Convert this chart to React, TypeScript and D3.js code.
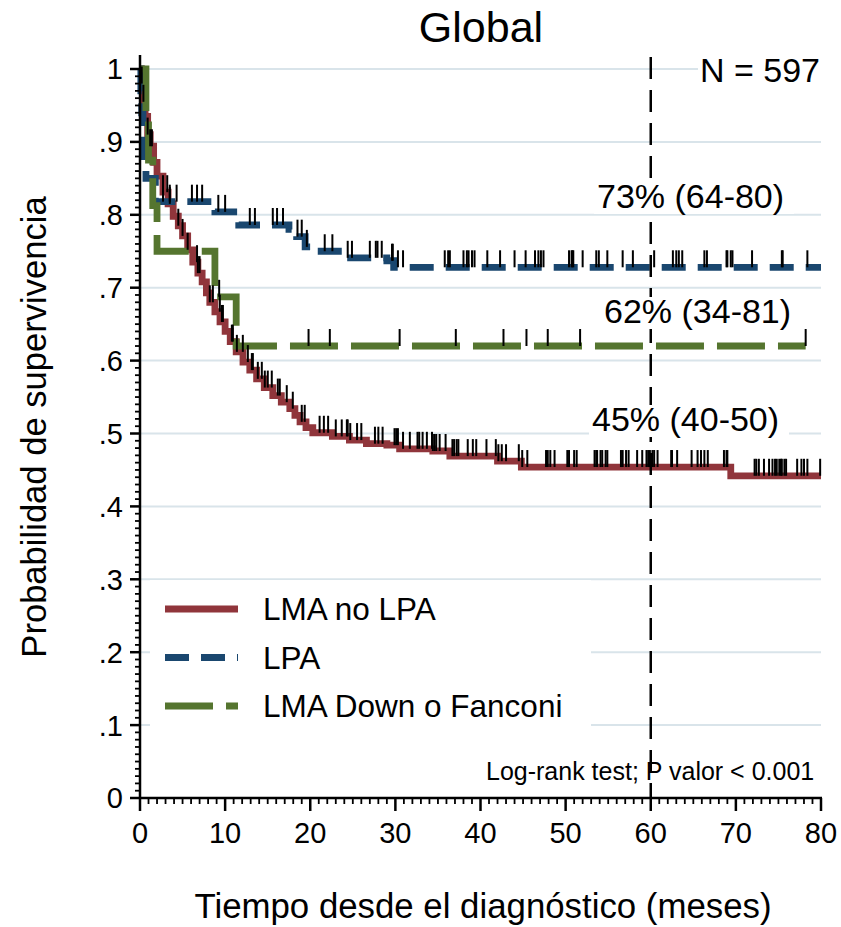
import React from 'react';
import * as d3 from 'd3';

const xTicks = [0, 10, 20, 30, 40, 50, 60, 70, 80];
const yTicks = [0, 0.1, 0.2, 0.3, 0.4, 0.5, 0.6, 0.7, 0.8, 0.9, 1];
const yTickLabels = ['0', '.1', '.2', '.3', '.4', '.5', '.6', '.7', '.8', '.9', '1'];

// LMA no LPA
const redTimes = [0, 0.2, 0.4, 0.6, 0.9, 1.2, 1.6, 2.0, 2.7, 3.3, 3.9, 4.5, 5.0, 5.6, 6.2, 6.8, 7.3, 7.8, 8.2, 8.8, 9.4, 10.0, 10.6, 11.3, 12.1, 12.9, 13.7, 14.6, 15.6, 16.6, 17.6, 18.2, 18.8, 19.5, 20.3, 22.6, 24.6, 26.6, 29.0, 30.5, 34.4, 36.4, 42.0, 44.8, 69.4];
const redSurv = [1, 0.98, 0.955, 0.935, 0.91, 0.894, 0.872, 0.853, 0.831, 0.815, 0.798, 0.785, 0.771, 0.752, 0.735, 0.72, 0.708, 0.693, 0.68, 0.667, 0.653, 0.64, 0.626, 0.612, 0.598, 0.587, 0.575, 0.563, 0.552, 0.543, 0.534, 0.525, 0.516, 0.508, 0.501, 0.496, 0.491, 0.486, 0.484, 0.479, 0.476, 0.469, 0.462, 0.454, 0.442];
const redEnd = 80;
const redCensor = [0.2, 0.4, 0.9, 1.2, 1.4, 2.7, 3.2, 3.5, 4.5, 5.0, 5.6, 6.7, 6.8, 7.0, 8.2, 8.56, 9.38, 9.62, 9.74, 10.79, 10.91, 11.38, 12.08, 12.67, 13.14, 13.26, 13.84, 14.31, 14.66, 15.01, 15.48, 16.19, 16.42, 17.24, 17.95, 19.0, 19.35, 21.1, 21.6, 22.1, 23.0, 23.7, 24.3, 24.4, 24.7, 25.5, 26.0, 27.6, 28.0, 28.5, 29.9, 30.1, 30.3, 30.9, 31.7, 32.6, 32.8, 33.2, 33.7, 34.3, 34.4, 34.6, 34.8, 35.2, 35.9, 36.7, 36.9, 37.2, 37.4, 38.5, 39.1, 39.5, 40.7, 41.8, 42.1, 42.5, 43.0, 44.5, 44.9, 45.5, 47.7, 47.9, 48.2, 48.7, 50.2, 50.4, 51.0, 51.3, 53.4, 53.6, 53.7, 54.1, 54.3, 54.7, 54.9, 56.5, 56.7, 57.1, 57.4, 58.4, 59.0, 59.5, 59.7, 59.9, 60.2, 60.4, 60.8, 62.4, 62.5, 63.1, 64.8, 65.5, 65.9, 66.3, 66.7, 68.6, 68.9, 69.0, 72.2, 72.4, 72.7, 73.3, 73.9, 74.3, 74.6, 74.8, 75.1, 75.3, 75.4, 75.7, 75.9, 77.2, 77.7, 78.0, 78.4, 79.9];

// LPA
const blueTimes = [0, 0.1, 0.2, 0.35, 0.5, 0.7, 1.8, 8.8, 11.6, 17.5, 18.4, 19.4, 20.0, 23.8, 29.0, 29.8];
const blueSurv = [1, 0.97, 0.94, 0.91, 0.88, 0.85, 0.818, 0.804, 0.786, 0.78, 0.77, 0.756, 0.75, 0.741, 0.737, 0.728];
const blueEnd = 80;
const blueCensor = [2.7, 3.5, 4.3, 6.1, 6.7, 7.3, 9.2, 10.0, 12.9, 13.5, 15.6, 16.1, 16.8, 18.5, 19.0, 19.6, 21.7, 22.6, 24.4, 24.9, 27.0, 27.7, 27.9, 28.4, 29.6, 29.7, 30.3, 30.9, 35.8, 36.2, 36.4, 38.0, 38.4, 38.6, 39.0, 39.3, 40.8, 42.3, 44.0, 45.3, 46.4, 46.8, 47.1, 47.4, 50.4, 50.7, 50.8, 50.9, 52.0, 53.6, 53.9, 54.9, 56.7, 57.9, 60.4, 62.6, 63.0, 63.3, 63.7, 66.3, 66.6, 68.9, 69.0, 69.4, 69.6, 71.9, 75.4, 75.5, 78.4];

// LMA Down o Fanconi
const greenTimes = [0, 0.7, 1.0, 1.5, 2.0, 8.8, 11.3];
const greenSurv = [1, 0.9375, 0.875, 0.8125, 0.75, 0.6875, 0.62];
const greenEnd = 78.2;
const greenCensor = [9.3, 19.8, 22.3, 30.5, 37.1, 42.7, 45.4, 47.9, 51.7, 78.2];

const seriesNames = ['LMA no LPA', 'LPA', 'LMA Down o Fanconi'];
const annotations = ['73% (64-80)', '62% (34-81)', '45% (40-50)'];

const W = 841;
const H = 927;
const FONT = "'Liberation Sans', Arial, Helvetica, sans-serif";

const x = d3.scaleLinear().domain([0, 80]).range([140, 821]);
const y = d3.scaleLinear().domain([0, 1]).range([798, 69]);

function stepPath(times: number[], surv: number[], end: number) {
  const pts: [number, number][] = times.map((t, i) => [t, surv[i]]);
  pts.push([end, surv[surv.length - 1]]);
  return d3
    .line<[number, number]>()
    .x((d) => x(d[0]))
    .y((d) => y(d[1]))
    .curve(d3.curveStepAfter)(pts) as string;
}

function survAt(times: number[], surv: number[], t: number) {
  const i = d3.bisectRight(times, t) - 1;
  return surv[Math.max(0, i)];
}

const series = [
  { name: seriesNames[0], times: redTimes, surv: redSurv, end: redEnd, censor: redCensor, color: '#90353b', dash: undefined as string | undefined },
  { name: seriesNames[1], times: blueTimes, surv: blueSurv, end: blueEnd, censor: blueCensor, color: '#1a476f', dash: '24 12' },
  { name: seriesNames[2], times: greenTimes, surv: greenSurv, end: greenEnd, censor: greenCensor, color: '#55752f', dash: '48 13' },
];

export default function App() {
  const minorX = d3.range(0, 81, 1).filter((v) => v % 10 !== 0);
  const minorY = d3.range(0, 101, 1).filter((v) => v % 10 !== 0).map((v) => v / 100);
  const annot = [
    { text: annotations[0], x: 597, y: 208 },
    { text: annotations[1], x: 604, y: 323 },
    { text: annotations[2], x: 592, y: 431 },
  ];
  return (
    <svg width={W} height={H} style={{ position: 'absolute', left: 0, top: 0, background: '#fff' }} fontFamily={FONT}>
      <rect x={0} y={0} width={W} height={H} fill="#fff" />
      {/* gridlines */}
      {yTicks.slice(1).map((v) => (
        <line key={'g' + v} x1={x(0)} x2={x(80)} y1={y(v)} y2={y(v)} stroke="#d9e4ea" strokeWidth={2} />
      ))}
      {/* legend background */}
      <rect x={150} y={580} width={441} height={165} fill="#fff" />
      {/* curves */}
      {series.map((s) => (
        <path key={s.name} d={stepPath(s.times, s.surv, s.end)} fill="none" stroke={s.color} strokeWidth={6.8} strokeDasharray={s.dash} strokeLinejoin="miter" strokeLinecap="butt" />
      ))}
      {/* censor ticks */}
      {series.map((s) =>
        s.censor.map((t, i) => {
          const yy = y(survAt(s.times, s.surv, t));
          return <line key={s.name + i} x1={x(t)} x2={x(t)} y1={yy} y2={yy - 17} stroke="#000" strokeWidth={2} />;
        })
      )}
      {/* vertical reference line at 60 */}
      <line x1={x(60)} x2={x(60)} y1={57} y2={y(0)} stroke="#000" strokeWidth={2.5} strokeDasharray="22 11" />
      {/* axes */}
      <line x1={x(0)} x2={x(0)} y1={55} y2={y(0) + 1} stroke="#000" strokeWidth={2.5} />
      <line x1={x(0) - 1} x2={x(80) + 1} y1={y(0)} y2={y(0)} stroke="#000" strokeWidth={2.5} />
      {minorY.map((v) => (
        <line key={'my' + v} x1={x(0) - 5} x2={x(0)} y1={y(v)} y2={y(v)} stroke="#000" strokeWidth={1.8} />
      ))}
      {yTicks.map((v, i) => (
        <g key={'yt' + v}>
          <line x1={x(0) - 10} x2={x(0)} y1={y(v)} y2={y(v)} stroke="#000" strokeWidth={2.5} />
          <text x={123} y={y(v)} dy="0.36em" textAnchor="end" fontSize={29}>
            {yTickLabels[i]}
          </text>
        </g>
      ))}
      {minorX.map((v) => (
        <line key={'mx' + v} x1={x(v)} x2={x(v)} y1={y(0)} y2={y(0) + 6} stroke="#000" strokeWidth={1.8} />
      ))}
      {xTicks.map((v) => (
        <g key={'xt' + v}>
          <line x1={x(v)} x2={x(v)} y1={y(0)} y2={y(0) + 13} stroke="#000" strokeWidth={2.5} />
          <text x={x(v)} y={843} textAnchor="middle" fontSize={29}>
            {v}
          </text>
        </g>
      ))}
      {/* annotations with white boxes */}
      <rect x={698} y={56} width={124} height={30} fill="#fff" />
      <text x={700} y={82} fontSize={34}>N = 597</text>
      {annot.map((a) => (
        <g key={a.text}>
          <rect x={a.x - 3} y={a.y - 26} width={200} height={32} fill="#fff" />
          <text x={a.x} y={a.y} fontSize={34}>
            {a.text}
          </text>
        </g>
      ))}
      <text x={486} y={780} fontSize={25}>Log-rank test; P valor &lt; 0.001</text>
      {/* legend */}
      {series.map((s, i) => {
        const ly = 609 + i * 48.5;
        return (
          <g key={'lg' + s.name}>
            <line x1={165} x2={238} y1={ly} y2={ly} stroke={s.color} strokeWidth={6.8} strokeDasharray={s.dash} />
            <text x={263} y={ly} dy="0.36em" fontSize={31.5}>
              {s.name}
            </text>
          </g>
        );
      })}
      {/* titles */}
      <text x={481} y={42} textAnchor="middle" fontSize={43}>Global</text>
      <text x={483} y={918} textAnchor="middle" fontSize={34.8}>Tiempo desde el diagnóstico (meses)</text>
      <text transform={`translate(46,427) rotate(-90)`} textAnchor="middle" fontSize={34.6}>
        Probabilidad de supervivencia
      </text>
    </svg>
  );
}
